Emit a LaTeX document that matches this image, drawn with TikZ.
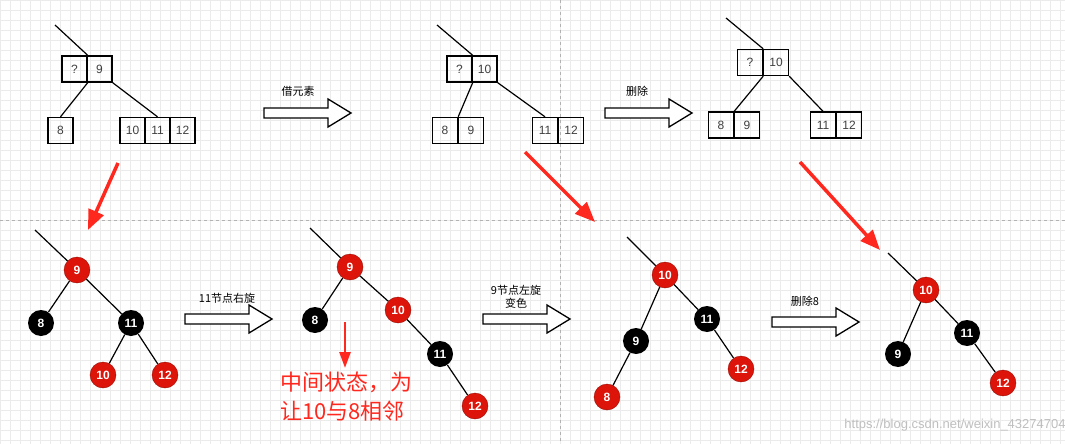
\documentclass[tikz,border=0pt]{standalone}
\usepackage{fontspec}
\newfontfamily\cjk{Noto Sans CJK SC}
\setsansfont{Liberation Sans}
\usetikzlibrary{arrows.meta}
\definecolor{rbred}{RGB}{220,20,10}
\definecolor{hint}{RGB}{255,40,30}
\tikzset{
  key/.style={draw,line width=1.4pt,minimum width=25pt,minimum height=26pt,inner sep=0pt,font=\sffamily\fontsize{12}{14}\selectfont,text=black!75},
  rnode/.style={circle,fill=rbred,draw=rbred!70!black,minimum size=26pt,inner sep=0pt,text=white,font=\sffamily\bfseries\fontsize{12}{14}\selectfont},
  bnode/.style={circle,fill=black,minimum size=26pt,inner sep=0pt,text=white,font=\sffamily\bfseries\fontsize{12}{14}\selectfont},
  edge/.style={line width=1.2pt},
  hintarrow/.style={draw=hint,fill=hint,line width=3.5pt,-{Triangle[length=20pt,width=16pt]}},
  lbl/.style={font=\cjk\fontsize{11}{13}\selectfont,inner sep=0pt}
}
\newcommand{\fatarrow}[2]{%
  \draw[line width=1.3pt,fill=white] (#1,#2-5)--(#1+64,#2-5)--(#1+64,#2-14)--(#1+87,#2)
    --(#1+64,#2+14)--(#1+64,#2+5)--(#1,#2+5)--cycle;}
\begin{document}
\begin{tikzpicture}[x=1pt,y=-1pt]

  \useasboundingbox (0,0) rectangle (1065,444);
  \fill[white] (0,0) rectangle (1065,444);
  \foreach \i in {0,10,...,1060} {\draw[black!8] (\i,0)--(\i,444);}
  \foreach \j in {0,10,...,440} {\draw[black!8] (0,\j)--(1065,\j);}
  \draw[black!30,dashed] (0,220)--(1065,220);
  \draw[black!30,dashed] (560,0)--(560,444);

  % B-tree, vyhozi stav
  \node[key] (aq) at (74.5,69) {?};
  \node[key] (a9) at (99.5,69) {9};
  \node[key] (a8) at (60.5,130.5) {8};
  \node[key] (a10) at (132.5,130.5) {10};
  \node[key] (a11) at (157.5,130.5) {11};
  \node[key] (a12) at (182.5,130.5) {12};
  \coordinate (atop) at (55,25);
  \draw[edge] (atop)--(aq.north east);
  \draw[edge] (aq.south east)--(a8.north);
  \draw[edge] (a9.south east)--(a11.north);

  \fatarrow{264}{113}
  \node[lbl] (t1) at (298,91) {借元素};

  % po vypujceni
  \node[key] (bq) at (459.5,69) {?};
  \node[key] (b10) at (484.5,69) {10};
  \node[key] (b8) at (445,130.5) {8};
  \node[key] (b9) at (471,130.5) {9};
  \node[key] (b11) at (545,130.5) {11};
  \node[key] (b12) at (571,130.5) {12};
  \coordinate (btop) at (437,25);
  \draw[edge] (btop)--(bq.north east);
  \draw[edge] (bq.south east)--(b8.north east);
  \draw[edge] (b10.south east)--(b11.north);

  \fatarrow{605}{113}
  \node[lbl] (t2) at (637,91) {删除};

  \node[key] (cq) at (750,62.5) {?};
  \node[key] (c10) at (776,62.5) {10};
  \node[key] (c8) at (721,125) {8};
  \node[key] (c9) at (747,125) {9};
  \node[key] (c11) at (823,125) {11};
  \node[key] (c12) at (849,125) {12};
  \coordinate (ctop) at (726,18);
  \draw[edge] (ctop)--(cq.north east);
  \draw[edge] (cq.south east)--(c8.north east);
  \draw[edge] (c10.south east)--(c11.north);

  % cervene sipky
  \coordinate (h1s) at (118,163); \coordinate (h1e) at (88,230);
  \coordinate (h2s) at (525,152); \coordinate (h2e) at (595,222);
  \coordinate (h3s) at (800,162); \coordinate (h3e) at (880,250);
  \draw[hintarrow] (h1s)--(h1e);
  \draw[hintarrow] (h2s)--(h2e);
  \draw[hintarrow] (h3s)--(h3e);

  % cerveno-cerny strom
  \node[rnode] (r9) at (77,270) {9};
  \node[bnode] (r8) at (41,323) {8};
  \node[bnode] (r11) at (131,323) {11};
  \node[rnode] (r10) at (103,375) {10};
  \node[rnode] (r12) at (165,375) {12};
  \coordinate (rtop) at (35,230);
  \draw[edge] (rtop)--(r9);
  \draw[edge] (r9)--(r8); \draw[edge] (r9)--(r11);
  \draw[edge] (r11)--(r10); \draw[edge] (r11)--(r12);

  \fatarrow{185}{319}
  \node[lbl] (t3) at (227,298) {11节点右旋};

  \node[rnode] (s9) at (350,267) {9};
  \node[bnode] (s8) at (315,320) {8};
  \node[rnode] (s10) at (398,310) {10};
  \node[bnode] (s11) at (440,354) {11};
  \node[rnode] (s12) at (475,406) {12};
  \coordinate (stop) at (310,228);
  \draw[edge] (stop)--(s9);
  \draw[edge] (s9)--(s8); \draw[edge] (s9)--(s10);
  \draw[edge] (s10)--(s11); \draw[edge] (s11)--(s12);

  \coordinate (h4s) at (345,322); \coordinate (h4e) at (345,368);
  \draw[hintarrow,line width=2.5pt,-{Triangle[length=16pt,width=11pt]}] (h4s)--(h4e);
  \node[font=\cjk\fontsize{22}{29}\selectfont,text=hint,align=left,inner sep=0pt] (note) at (346,397)
       {中间状态，为\\让10与8相邻};

  \fatarrow{483}{319}
  \node[lbl,align=center] (t4) at (516,297) {9节点左旋\\变色};

  \node[rnode] (u10) at (665,275) {10};
  \node[bnode] (u9) at (636,341) {9};
  \node[bnode] (u11) at (707,319) {11};
  \node[rnode] (u8) at (607,397) {8};
  \node[rnode] (u12) at (741,369) {12};
  \coordinate (utop) at (627,237);
  \draw[edge] (utop)--(u10);
  \draw[edge] (u10)--(u9); \draw[edge] (u10)--(u11);
  \draw[edge] (u9)--(u8); \draw[edge] (u11)--(u12);

  \fatarrow{772}{322}
  \node[lbl] (t5) at (805,301) {删除8};

  \node[rnode] (v10) at (926,290) {10};
  \node[bnode] (v9) at (898,354) {9};
  \node[bnode] (v11) at (967,333) {11};
  \node[rnode] (v12) at (1003,383) {12};
  \coordinate (vtop) at (888,253);
  \draw[edge] (vtop)--(v10);
  \draw[edge] (v10)--(v9); \draw[edge] (v10)--(v11);
  \draw[edge] (v11)--(v12);

  \node[font=\sffamily\fontsize{13}{15}\selectfont,text=black!25] (wm) at (955,425)
       {https://blog.csdn.net/weixin\_43274704};

\end{tikzpicture}
\end{document}
